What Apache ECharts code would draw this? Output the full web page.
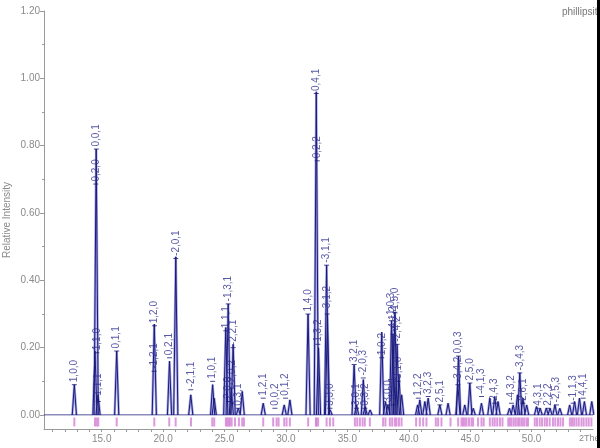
<!DOCTYPE html>
<html>
<head>
<meta charset="utf-8">
<script src="https://cdn.jsdelivr.net/npm/echarts@6/dist/echarts.min.js"></script>
<style>html,body{margin:0;padding:0;background:#fff}#c{width:600px;height:448px}</style>
</head>
<body>
<div id="c"></div>
<script>
// Observed profile peaks (2Theta, relative intensity)
const peakPos = [12.77, 14.45, 14.55, 14.7, 16.22, 19.28, 20.52, 21.03, 22.25, 24.03, 24.16,
  25.1, 25.3, 25.55, 25.7, 26.12, 26.44, 28.15, 29.86, 30.32, 31.8, 32.47, 32.65, 33.31, 33.38, 33.6,
  35.55, 35.75, 36.3, 36.45, 36.85, 37.8, 38.1, 38.3, 38.6, 38.72, 38.87, 39.05, 39.2, 39.42,
  40.72, 40.9, 41.31, 41.58, 42.53, 43.2, 44.0, 44.05, 44.56, 44.97, 45.25, 45.92, 46.6, 47.0, 47.27,
  48.2, 48.5, 48.85, 49.04, 49.3, 49.6, 50.4, 50.7, 51.2, 51.5, 51.9, 52.3, 53.1, 53.5, 53.9, 54.3, 54.9];
const peakHeight = [0.09, 0.19, 0.79, 0.06, 0.19, 0.27, 0.16, 0.47, 0.06, 0.09, 0.05,
  0.26, 0.33, 0.08, 0.21, 0.02, 0.07, 0.035, 0.03, 0.045, 0.30, 0.96, 0.2, 0.445, 0.3, 0.015,
  0.148, 0.03, 0.105, 0.025, 0.015, 0.246, 0.04, 0.03, 0.28, 0.24, 0.306, 0.21, 0.12, 0.06,
  0.03, 0.045, 0.04, 0.05, 0.03, 0.035, 0.09, 0.175, 0.03, 0.095, 0.02, 0.035, 0.05, 0.055, 0.04,
  0.02, 0.03, 0.06, 0.125, 0.05, 0.03, 0.025, 0.02, 0.02, 0.02, 0.03, 0.02, 0.03, 0.04, 0.05, 0.04, 0.04];

// Labelled reflections
const hklLabels = ["1,0,0", "0,2,0", "0,0,1", "1,1,0", "-1,1,1", "0,1,1", "-1,2,1", "1,2,0", "0,2,1", "-2,0,1",
  "-2,1,1", "1,0,1", "1,1,1", "-1,3,1", "2,0,0", "-2,0,2", "-2,2,1", "0,3,1", "1,2,1", "0,0,2", "0,1,2",
  "1,4,0", "0,4,1", "0,2,2", "1,3,2", "-3,1,1", "-3,1,2", "3,3,0", "3,2,1", "3,0,1", "-2,0,3", "0,3,2",
  "1,0,2", "3,0,0", "-1,0,3", "-4,1,2", "-4,0,1", "1,5,0", "-2,4,2", "3,1,0", "1,2,2", "3,2,3", "2,5,1",
  "-3,4,2", "0,0,3", "2,5,0", "-4,1,3", "2,4,3", "-4,3,2", "-3,4,3", "2,6,1", "4,3,1", "2,2,2", "-2,5,3",
  "-1,1,3", "4,4,1"];
const hklPos = [12.77, 14.52, 14.56, 14.6, 14.72, 16.22, 19.26, 19.3, 20.52, 21.03,
  22.25, 24.03, 25.1, 25.3, 25.32, 25.6, 25.7, 26.12, 28.15, 29.1, 29.97,
  31.8, 32.47, 32.55, 32.6, 33.31, 33.36, 33.58, 35.55, 35.75, 36.3, 36.42,
  37.8, 38.3, 38.6, 38.72, 38.75, 38.87, 39.05, 39.13, 40.78, 41.58, 42.53,
  44.0, 44.05, 44.97, 45.92, 47.0, 48.36, 49.04, 49.3, 50.53, 51.34, 52.02,
  53.38, 54.2];
const hklHeight = [0.09, 0.686, 0.79, 0.185, 0.04, 0.19, 0.13, 0.265, 0.17, 0.465,
  0.075, 0.1, 0.25, 0.33, 0.04, 0.08, 0.2, 0.02, 0.05, 0.02, 0.05,
  0.3, 0.955, 0.755, 0.21, 0.445, 0.3, 0.02, 0.15, 0.02, 0.11, 0.02,
  0.17, 0.03, 0.28, 0.24, 0.03, 0.305, 0.21, 0.1, 0.05, 0.055, 0.03,
  0.09, 0.175, 0.095, 0.055, 0.035, 0.035, 0.125, 0.035, 0.02, 0.02, 0.03,
  0.035, 0.05];

// Reflection marker positions (lower band)
const refPos = [12.77, 14.45, 14.59, 14.72, 16.22, 19.28, 20.5, 21.02, 22.27, 24.0, 24.16, 25.11, 25.22,
  25.33, 25.44, 25.58, 25.85, 26.17, 26.44, 26.58, 28.15, 28.96, 29.24, 29.4, 29.86, 30.05, 30.32, 31.81,
  32.44, 32.49, 32.62, 33.31, 33.58, 33.85, 35.61, 35.8, 36.02, 36.24, 36.42, 36.83, 37.91, 38.1, 38.46,
  38.65, 38.87, 39.0, 39.2, 39.41, 40.6, 40.9, 41.17, 41.44, 42.2, 42.39, 42.66, 43.4, 44.02, 44.29,
  44.42, 44.56, 44.7, 44.9, 45.1, 45.24, 45.64, 45.92, 46.1, 46.6, 46.82, 47.0, 47.2, 47.42, 47.63, 48.1,
  48.23, 48.37, 48.55, 48.72, 48.9, 49.04, 49.22, 49.39, 49.58, 49.71, 50.26, 50.44, 50.66, 50.85, 51.07,
  51.25, 51.47, 51.74, 51.93, 52.15, 52.35, 52.56, 53.12, 53.29, 53.46, 53.65, 53.84, 54.06, 54.24, 54.46,
  54.65, 54.87];

const xTickLabels = [15, 20, 25, 30, 35, 40, 45, 50];
const xMinorTicks = [11,12,13,14,15,16,17,18,19,20,21,22,23,24,25,26,27,28,29,30,31,32,33,34,35,36,37,38,39,40,41,42,43,44,45,46,47,48,49,50,51,52,53,54];

const X_MIN = 10.3, X_MAX = 55;
const HALF_WIDTH = 0.17;

const profile = [];
peakPos.forEach((p, i) => {
  profile.push([p - HALF_WIDTH, 0], [p, peakHeight[i]], [p + HALF_WIDTH, 0], [p + HALF_WIDTH, null]);
});
const labelData = hklLabels.map((l, i) => ({ name: l, value: [hklPos[i], hklHeight[i]] }));
const stickData = refPos.map(p => [p, 0.5]);

const gray = '#9a9a9a';
const textGray = '#8a8a8a';
const font = 'Liberation Sans, Arial, sans-serif';

const chart = echarts.init(document.getElementById('c'), null, { renderer: 'canvas' });
chart.setOption({
  animation: false,
  backgroundColor: '#fff',
  grid: [
    { left: 44, right: 7, top: 11, height: 404, containLabel: false, outerBoundsMode: 'none' },
    { left: 44, right: 7, top: 415, height: 14, containLabel: false, outerBoundsMode: 'none' }
  ],
  xAxis: [
    { gridIndex: 0, type: 'value', min: X_MIN, max: X_MAX, show: false },
    {
      gridIndex: 1, type: 'value', min: X_MIN, max: X_MAX,
      axisLine: { show: true, lineStyle: { color: gray, width: 1 } },
      axisTick: { show: true, customValues: xMinorTicks, length: 3, lineStyle: { color: gray } },
      axisLabel: { customValues: xTickLabels, formatter: v => v.toFixed(1), color: textGray, fontSize: 10, fontFamily: font, margin: 5 },
      splitLine: { show: false }
    }
  ],
  yAxis: [
    {
      gridIndex: 0, type: 'value', min: 0, max: 1.2, interval: 0.2,
      name: 'Relative Intensity', nameLocation: 'middle', nameGap: 32, nameRotate: 90,
      nameMoveOverlap: false,
      nameTextStyle: { color: textGray, fontSize: 10, fontFamily: font, padding: [0, 14, 0, 0] },
      axisLine: { show: true, lineStyle: { color: gray, width: 1 } },
      axisTick: { show: true, length: 4, lineStyle: { color: gray } },
      minorTick: { show: true, splitNumber: 2, length: 2, lineStyle: { color: gray } },
      axisLabel: { formatter: v => v.toFixed(2), color: textGray, fontSize: 10, fontFamily: font, margin: 4 },
      splitLine: { show: false }
    },
    {
      gridIndex: 1, type: 'value', min: 0, max: 1,
      axisLine: { show: true, lineStyle: { color: gray, width: 1 } },
      axisTick: { show: false }, axisLabel: { show: false }, splitLine: { show: false }
    }
  ],
  series: [
    {
      type: 'line', xAxisIndex: 0, yAxisIndex: 0, data: [[X_MIN, 0], [X_MAX, 0]],
      symbol: 'none', lineStyle: { color: '#1a1a78', width: 1 }, silent: true, z: 3
    },
    {
      type: 'line', xAxisIndex: 0, yAxisIndex: 0, data: profile, connectNulls: false,
      symbol: 'none', lineStyle: { color: '#a8a8e6', width: 2.5 }, silent: true, z: 2
    },
    {
      type: 'line', xAxisIndex: 0, yAxisIndex: 0, data: profile, connectNulls: false,
      symbol: 'none', lineStyle: { color: '#1a1a78', width: 1 }, silent: true, z: 4
    },
    {
      type: 'scatter', xAxisIndex: 0, yAxisIndex: 0, data: labelData,
      symbol: 'rect', symbolSize: [5, 1], itemStyle: { color: '#1a1a78' }, silent: true, z: 5,
      label: {
        show: true, formatter: '{b}', position: 'top', distance: 2, rotate: 90,
        align: 'left', verticalAlign: 'middle', color: '#2e2e90', fontSize: 10, fontFamily: font
      }
    },
    {
      type: 'scatter', xAxisIndex: 1, yAxisIndex: 1, data: stickData,
      symbol: 'rect', symbolSize: [2, 9], itemStyle: { color: '#d47fd4' }, silent: true, z: 3
    }
  ],
  graphic: [
    { type: 'text', left: 579, top: 434, z: 10, style: { text: '2Theta', fill: textGray, font: '9px ' + font } },
    { type: 'text', left: 562, top: 7, z: 10, style: { text: 'phillipsite', fill: '#777', font: '10px ' + font } },
    { type: 'rect', shape: { x: 597, y: 0, width: 3, height: 448 }, style: { fill: '#000' }, z: 20 }
  ]
});
</script>
</body>
</html>
